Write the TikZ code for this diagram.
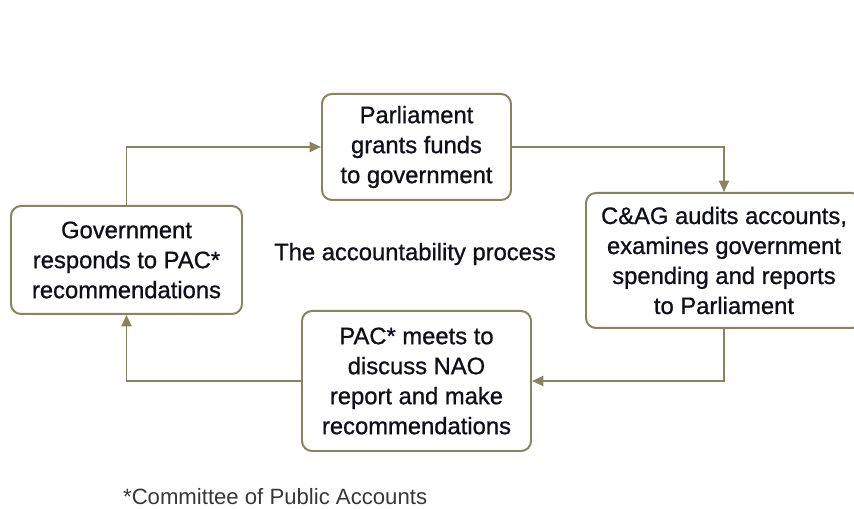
\documentclass[tikz,border=0pt]{standalone}
\usepackage{fontspec}
\setmainfont{Liberation Sans}
\newfontfamily\medfont[FakeBold=0.9]{Liberation Sans}
\usepackage{xcolor}
\usetikzlibrary{arrows.meta,positioning,calc}
\definecolor{nao-ol}{RGB}{138, 132, 92}
\definecolor{nao-tx}{RGB}{15, 15, 25}
\definecolor{nao-ft}{RGB}{55, 55, 55}
\newlength{\px}
\setlength{\px}{0.03cm}
\tikzstyle{a}=[anchor=north west]
\tikzstyle{stage}=[a,draw=nao-ol,line width=1.7pt,rounded corners=10\px,align=center,text=nao-tx,font=\medfont\fontsize{20.3}{25.6}\selectfont]
\tikzstyle{arrow}=[draw=nao-ol,line width=1.7pt,-{Triangle[length=0.34cm,width=0.3cm]}]
\tikzstyle{title}=[text=nao-tx,font=\medfont\fontsize{20.3}{25.6}\selectfont]
\tikzstyle{small}=[anchor=west,text=nao-ft,font=\fontsize{18.9}{22}\selectfont]

\begin{document}
\begin{tikzpicture}[x=\px,y=\px]
    \clip (0,0) rectangle (854,-509);
%    \draw[step=50,gray,thin] (0,0) grid (854,-509);

    \node[stage, minimum width=189\px, minimum height=106\px] at (321,-93) (grants) {Parliament\\grants funds\\to government};
    \node[stage, minimum width=231\px, minimum height=108\px] at (10,-205) (responds) {Government\\responds to PAC*\\recommendations};
    \node[stage, minimum width=276\px, minimum height=135\px] at (585,-192) (audits) {C\&AG audits accounts,\\examines government\\spending and reports\\to Parliament};
    \node[stage, minimum width=229\px, minimum height=140\px] at (301,-310) (meets) {PAC* meets to\\discuss NAO\\report and make\\recommendations};

    \node[title] at (415,-254) (label) {The accountability process};

    \draw[arrow] (responds.north) |- (grants.west);
    \draw[arrow] (grants.east) -| (audits.north);
    \draw[arrow] (audits.south) |- (meets.east);
    \draw[arrow] (meets.west) -| (responds.south);

    \node[small] at (119,-497) (pacnote) {*Committee of Public Accounts};
\end{tikzpicture}
\end{document}
